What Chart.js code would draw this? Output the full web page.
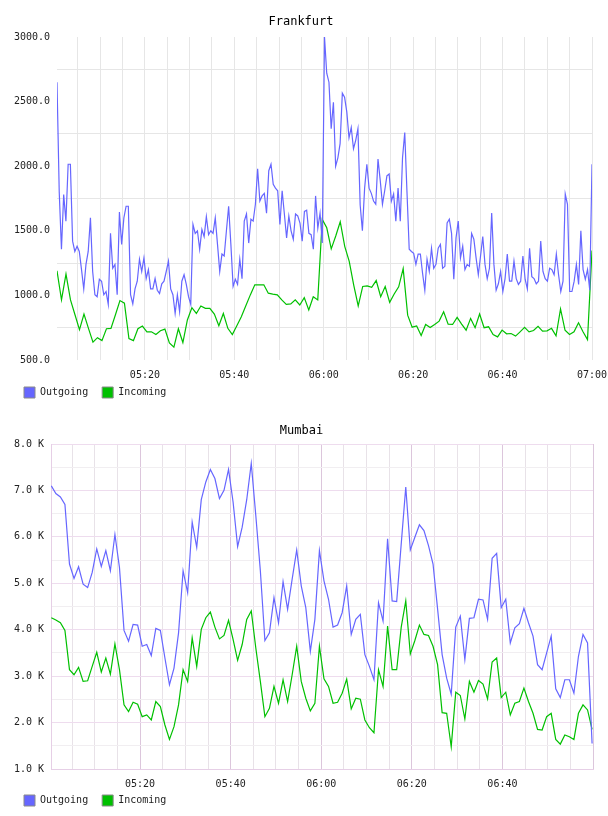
<!DOCTYPE html>
<html>
<head>
<meta charset="utf-8">
<script src="https://cdn.jsdelivr.net/npm/chart.js@4.4.1/dist/chart.umd.min.js"></script>
<style>
  html, body { margin: 0; padding: 0; background: #fff; }
  .box { position: absolute; left: 0; width: 608px; height: 408px; }
  #fraBox { top: 0; }
  #bomBox { top: 408px; }
</style>
</head>
<body>
<div class="box" id="fraBox"><canvas id="fraChart"></canvas></div>
<div class="box" id="bomBox"><canvas id="bomChart"></canvas></div>

<script>
// ---- data (minutes after 05:00) ----
const seriesNames = ['Outgoing', 'Incoming'];

// Frankfurt, outgoing sampled every ~30s, incoming every ~1 min
const frStart = 1 / 3;
const frEnd = 120;
const frOutgoing = [
  2650,1800,1357,1780,1575,2015,2015,1420,1340,1380,
  1340,1200,1050,1240,1340,1600,1185,1005,990,1125,
  1110,1005,1030,930,1480,1210,1240,1005,1645,1395,
  1600,1690,1690,1005,935,1050,1110,1280,1185,1290,
  1130,1200,1050,1050,1130,1040,1015,1090,1110,1185,
  1265,1050,1005,860,1005,875,1110,1160,1085,990,
  930,1550,1480,1500,1357,1510,1455,1610,1470,1500,
  1480,1600,1395,1185,1320,1305,1500,1690,1395,1070,
  1125,1085,1280,1130,1575,1630,1405,1590,1575,1705,
  1980,1730,1770,1790,1637,1965,2015,1860,1830,1810,
  1550,1810,1630,1445,1615,1500,1435,1630,1615,1560,
  1420,1650,1660,1480,1470,1357,1770,1520,1637,1405,
  3000,2720,2650,2290,2495,2000,2065,2175,2565,2535,
  2420,2220,2300,2135,2200,2290,1700,1500,1830,2015,
  1830,1790,1730,1705,2055,1890,1705,1810,1925,1940,
  1730,1785,1575,1830,1575,2065,2260,1800,1357,1340,
  1325,1240,1320,1320,1170,1040,1280,1185,1365,1210,
  1240,1365,1395,1210,1225,1560,1590,1480,1125,1445,
  1575,1290,1380,1200,1240,1225,1480,1435,1290,1160,
  1305,1455,1240,1130,1210,1637,1240,1040,1090,1185,
  1030,1130,1320,1110,1110,1265,1130,1085,1110,1305,
  1125,1050,1365,1145,1130,1090,1110,1420,1185,1130,
  1110,1210,1200,1160,1320,1160,1030,1110,1785,1705,
  1030,1030,1110,1240,1085,1500,1200,1125,1200,1040,
  2015
];
const frIncoming = [
  1190,965,1165,965,850,735,855,745,638,673,
  650,742,745,850,960,940,666,650,742,763,
  718,718,697,726,739,632,599,742,635,810,
  905,860,918,900,900,855,765,860,745,697,
  765,835,920,1004,1082,1082,1082,1017,1010,1004,
  965,930,934,965,926,983,887,990,965,1588,
  1523,1360,1460,1570,1380,1263,1080,918,1069,1074,
  1063,1115,990,1069,946,1011,1066,1207,847,754,
  763,689,775,752,775,801,874,778,775,830,
  778,731,822,750,856,750,757,697,679,731,
  703,705,685,718,752,718,728,760,724,726,
  745,687,895,731,697,718,788,718,658,1347
];
const frTicks = [500, 1000, 1500, 2000, 2500, 3000];

// Mumbai, both series every minute
const bomStart = 0.4;
const bomEnd = 119.8;
const bomOutgoing = [
  7097,6932,6860,6700,5415,5103,5356,4981,4908,5233,
  5740,5363,5703,5270,6050,5341,3985,3753,4114,4100,
  3644,3681,3443,4028,3985,3391,2815,3174,3933,5270,
  4800,6316,5775,6800,7183,7451,7257,6823,7003,7451,
  6750,5790,6208,6800,7582,6461,5270,3768,3933,4691,
  4149,5037,4440,5088,5718,4945,4475,3536,4223,5703,
  5053,4656,4056,4100,4366,4945,3898,4223,4331,3464,
  3211,2922,4583,4186,5957,4620,4605,5848,7075,5718,
  5992,6260,6136,5811,5415,4450,3464,2957,2611,4056,
  4294,3356,4245,4258,4656,4641,4223,5537,5644,4475,
  4656,3716,4041,4128,4461,4149,3861,3247,3139,3500,
  3861,2727,2539,2922,2922,2633,3428,3898,3716,1549
];
const bomIncoming = [
  4258,4208,4150,3985,3139,3030,3189,2886,2900,3211,
  3514,3088,3391,3045,3695,3139,2381,2236,2437,2394,
  2127,2164,2056,2453,2344,1948,1636,1911,2381,3139,
  2886,3824,3211,4007,4258,4381,4056,3803,3876,4201,
  3790,3341,3681,4223,4403,3607,2886,2127,2308,2778,
  2416,2922,2453,3030,3644,2886,2525,2251,2416,3644,
  2944,2778,2416,2437,2633,2937,2294,2525,2503,2056,
  1889,1781,3139,2778,4078,3139,3139,4056,4620,3478,
  3768,4100,3898,3876,3644,3247,2214,2200,1478,2654,
  2583,2077,2886,2654,2907,2828,2511,3305,3391,2539,
  2654,2164,2416,2453,2741,2453,2200,1853,1839,2127,
  2200,1636,1536,1731,1694,1636,2200,2381,2272,1853
];
const bomTicks = [1000, 2000, 3000, 4000, 5000, 6000, 7000, 8000];

const colors = ['#6666ff', '#00c000'];

Chart.defaults.font.family = '"DejaVu Sans Mono", monospace';
Chart.defaults.font.size = 10;
Chart.defaults.color = '#222';
Chart.defaults.animation = false;

// spread a series evenly between start and end minute
function toPoints(values, start, end) {
  const step = (end - start) / (values.length - 1);
  return values.map((v, i) => ({ x: start + i * step, y: v }));
}

function timeLabel(m) {
  const h = 5 + Math.floor(m / 60);
  const mm = m % 60;
  return String(h).padStart(2, '0') + ':' + String(mm).padStart(2, '0');
}

function legendLabels(chart) {
  const items = Chart.defaults.plugins.legend.labels.generateLabels(chart);
  return items.map(it => Object.assign(it, { strokeStyle: '#8a8a8a', lineWidth: 1 }));
}

// the x axis is tall so its labels are not clipped; pull the legend back up over it
const legendLift = {
  id: 'legendLift',
  afterLayout(chart, args, opts) {
    chart.legend.top -= opts.by;
    chart.legend.bottom -= opts.by;
  }
};

function makeChart(id, cfg) {
  const ctx = document.getElementById(id).getContext('2d');
  return new Chart(ctx, {
    type: 'line',
    data: {
      datasets: cfg.series.map((s, i) => ({
        label: seriesNames[i],
        data: s,
        borderColor: colors[i],
        backgroundColor: colors[i],
        borderWidth: 1.2,
        pointRadius: 0,
        tension: 0,
        fill: false
      }))
    },
    plugins: [legendLift],
    options: {
      responsive: true,
      maintainAspectRatio: false,
      devicePixelRatio: 1,
      layout: { padding: cfg.padding },
      plugins: {
        legendLift: { by: 14 },
        title: {
          display: true,
          text: cfg.title,
          color: '#000',
          font: { size: 12, lineHeight: 1, weight: 'normal' },
          padding: cfg.titlePad
        },
        legend: {
          position: 'bottom',
          align: 'start',
          labels: {
            boxWidth: 11,
            boxHeight: 11,
            padding: 14,
            color: '#222',
            generateLabels: legendLabels
          }
        },
        tooltip: { enabled: false }
      },
      scales: {
        x: {
          type: 'linear',
          min: frStart,
          max: 120,
          border: cfg.xBorder,
          grid: { drawTicks: false, color: cfg.xGrid },
          ticks: {
            stepSize: 5,
            includeBounds: false,
            autoSkip: false,
            maxRotation: 0,
            padding: 9,
            callback: v => (v % 20 === 0 && v <= cfg.lastLabel) ? timeLabel(v) : ''
          },
          afterFit: s => { s.height = cfg.xHeight + 14; s.paddingLeft = 0; s.paddingRight = 0; }
        },
        y: {
          min: cfg.yTicks[0],
          max: cfg.yTicks[cfg.yTicks.length - 1],
          border: cfg.yBorder,
          grid: { drawTicks: false, color: cfg.yGrid },
          ticks: {
            stepSize: (cfg.yTicks[1] - cfg.yTicks[0]) / 2,
            autoSkip: false,
            padding: 7,
            callback: v => cfg.yTicks.includes(v) ? cfg.yFormat(v) : ''
          },
          afterFit: s => { s.width = cfg.yWidth; s.paddingTop = 0; s.paddingBottom = 0; }
        }
      }
    }
  });
}

// Frankfurt: plain grey grid, no line at labelled values
makeChart('fraChart', {
  title: 'Frankfurt',
  series: [toPoints(frOutgoing, frStart, frEnd), toPoints(frIncoming, frStart, frEnd)],
  padding: { top: 1, left: 10, right: 16, bottom: -14 },
  titlePad: { top: 15, bottom: 9 },
  yTicks: frTicks,
  yFormat: v => v.toFixed(1),
  yWidth: 47,
  xHeight: 13,
  lastLabel: 120,
  xBorder: { display: false },
  yBorder: { display: false },
  xGrid: '#e6e6e6',
  yGrid: c => (c.tick && frTicks.includes(c.tick.value)) ? 'rgba(0,0,0,0)' : '#e6e6e6'
});

// Mumbai: pink framed grid, darker lines every 20 minutes
makeChart('bomChart', {
  title: 'Mumbai',
  series: [toPoints(bomOutgoing, bomStart, bomEnd), toPoints(bomIncoming, bomStart, bomEnd)],
  padding: { top: 0, left: 10, right: 15, bottom: -14 },
  titlePad: { top: 17, bottom: 7 },
  yTicks: bomTicks,
  yFormat: v => (v / 1000).toFixed(1) + ' K',
  yWidth: 41,
  xHeight: 12,
  lastLabel: 100,
  xBorder: { display: true, color: '#e6cfe6' },
  yBorder: { display: true, color: '#e6cfe6' },
  xGrid: c => (c.tick && c.tick.value % 20 === 0) ? '#dcc6dc' : '#e8e2e8',
  yGrid: c => (c.tick && bomTicks.includes(c.tick.value)) ? '#eedcee' : '#f1eef1'
});
</script>
</body>
</html>
